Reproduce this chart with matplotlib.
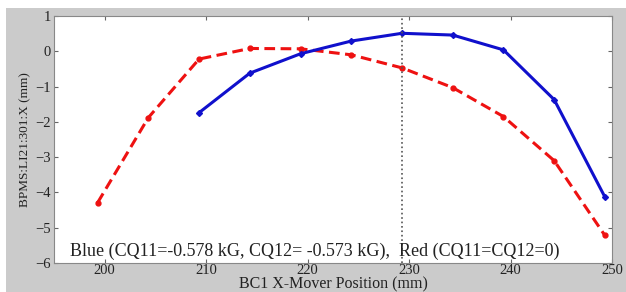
import matplotlib
matplotlib.use('Agg')
import matplotlib.pyplot as plt
from matplotlib.patches import Rectangle

# BC1 X-mover scan, BPMS:LI21:301 X readings
blue_x = [209.3, 214.3, 219.3, 224.3, 229.3, 234.3, 239.3, 244.3, 249.3]
blue_y = [-1.74, -0.62, -0.07, 0.29, 0.51, 0.46, 0.04, -1.37, -4.13]
red_x = [199.3, 204.3, 209.3, 214.3, 219.3, 224.3, 229.3, 234.3, 239.3, 244.3, 249.3]
red_y = [-4.29, -1.88, -0.22, 0.08, 0.07, -0.10, -0.47, -1.03, -1.85, -3.10, -5.22]
x_ticks = [200, 210, 220, 230, 240, 250]
y_ticks = [1, 0, -1, -2, -3, -4, -5, -6]
line_pos = 229.3
note = 'Blue (CQ11=-0.578 kG, CQ12= -0.573 kG),  Red (CQ11=CQ12=0)'

plt.rcParams['font.family'] = ['Liberation Serif', 'DejaVu Serif']

fig = plt.figure(figsize=(6.26, 2.92), dpi=100, facecolor='white')
# gray MATLAB-style frame
fig.patches.append(Rectangle((6 / 626, 0), 1, 1 - 8 / 292, transform=fig.transFigure,
                             facecolor='#cbcbcb', edgecolor='none', zorder=-10))
ax = fig.add_axes([54 / 626, 29 / 292, 558 / 626, 247 / 292])
ax.set_facecolor('white')

ax.plot(red_x, red_y, '--', color='#ee1111', lw=2.2, marker='o', ms=3.5, dashes=(3.5, 1.8))
ax.plot(blue_x, blue_y, '-', color='#1010cc', lw=2.2, marker='D', ms=3)
ax.axvline(line_pos, color='#555555', lw=1.2, ls=':')

ax.set_xlim(195, 250)
ax.set_ylim(-6, 1)
ax.set_xticks(x_ticks)
ax.set_yticks(y_ticks)
ax.tick_params(direction='in', top=True, right=True, length=3, labelsize=10.5,
               color='#666666', labelcolor='#222222')
ax.tick_params(axis='x', pad=1)
ax.tick_params(axis='y', pad=2)
for s in ax.spines.values():
    s.set_color('#888888')

ax.text(0.029, 0.028, note, transform=ax.transAxes, fontsize=13, color='#222222')
ax.set_xlabel('BC1 X-Mover Position (mm)', fontsize=11.5, color='#222222', labelpad=-1)
ax.set_ylabel('BPMS:LI21:301:X (mm)', fontsize=9.5, color='#222222', labelpad=3)

fig.savefig('out.png', dpi=100, facecolor=fig.get_facecolor())
